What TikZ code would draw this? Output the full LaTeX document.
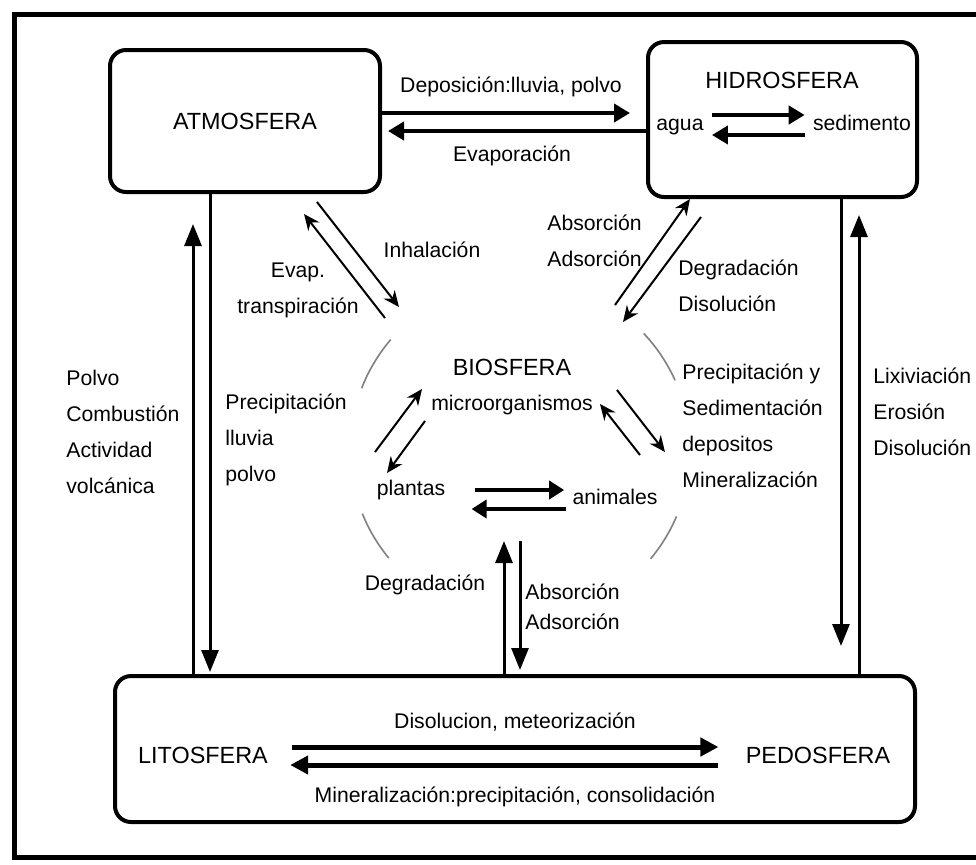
\documentclass[tikz,border=0pt]{standalone}
\usepackage{fontspec}
\setmainfont{Liberation Sans}
\usetikzlibrary{arrows.meta}

\begin{document}
\begin{tikzpicture}[x=0.5pt, y=-0.5pt,
  esfera/.style={draw, line width=2pt, rounded corners=8pt},
  titulo/.style={font=\fontsize{11.7}{14}\selectfont, inner sep=2pt},
  etiq/.style={font=\fontsize{10.6}{18}\selectfont, inner sep=2pt, align=left},
  hflow/.style={line width=2pt, -{Triangle[length=8pt,width=9pt]}},
  lflow/.style={line width=2.5pt, -{Triangle[length=9pt,width=9pt]}},
  vflow/.style={line width=1.5pt, -{Triangle[length=11pt,width=8.5pt]}},
  mflow/.style={line width=1.8pt, -{Triangle[length=7.5pt,width=9pt]}},
  dflow/.style={line width=1pt, -{Stealth[length=8pt,width=7pt]}},
  arco/.style={gray, line width=0.8pt}
]
  \useasboundingbox (0,0) rectangle (976,864);
  % marco
  \draw[line width=2.5pt] (990,14) -- (14,14) -- (14,857) -- (990,857);

  % esferas
  \node[esfera, titulo, minimum width=135pt, minimum height=71pt] (atmos) at (245,121) {ATMOSFERA};
  \node[esfera, minimum width=134.5pt, minimum height=77.5pt] (hidro) at (782.5,119.5) {};
  \node[esfera, minimum width=400pt, minimum height=73pt] (lito) at (515,749) {};

  \node[titulo] (hidroT) at (782,80) {HIDROSFERA};
  \node[etiq] (agua) at (680,127) {agua};
  \node[etiq] (sedim) at (862,123) {sedimento};
  \node[titulo] (litoT) at (203,755) {LITOSFERA};
  \node[titulo] (pedo) at (818,755) {PEDOSFERA};
  \node[titulo] (bio) at (512,367) {BIOSFERA};
  \node[etiq] (micro) at (512,405) {microorganismos};
  \node[etiq] (plantas) at (411,490) {plantas};
  \node[etiq] (animales) at (615,497) {animales};

  % etiquetas
  \node[etiq] (lDepo) at (511,87) {Deposición:lluvia, polvo};
  \node[etiq] (lEvapo) at (512,156) {Evaporación};
  \node[etiq] (lInhal) at (432,250) {Inhalación};
  \node[etiq, align=center] (lEvap) at (298,290) {Evap.\\transpiración};
  \node[etiq, anchor=west] (lAbsH) at (543,241) {Absorción\\Adsorción};
  \node[etiq, anchor=west] (lDegH) at (674,286) {Degradación\\Disolución};
  \node[etiq, anchor=west] (lPolvo) at (62,432) {Polvo\\Combustión\\Actividad\\volcánica};
  \node[etiq, anchor=west] (lPrecL) at (221,440) {Precipitación\\lluvia\\polvo};
  \node[etiq, anchor=west] (lPrecB) at (678,426) {Precipitación y\\Sedimentación\\depositos\\Mineralización};
  \node[etiq, anchor=west] (lLixi) at (869,412) {Lixiviación\\Erosión\\Disolución};
  \node[etiq] (lDegL) at (425,585) {Degradación};
  \node[etiq, anchor=west, font=\fontsize{10.6}{15}\selectfont] (lAbsL) at (521,607) {Absorción\\Adsorción};
  \node[etiq] (lDisol) at (515,722) {Disolucion, meteorización};
  \node[etiq] (lMiner) at (515,797) {Mineralización:precipitación, consolidación};

  % atmosfera <-> hidrosfera
  \draw[hflow, shorten >=8pt] (atmos.east |- 0,113) -- (hidro.west |- 0,113);
  \draw[hflow, shorten >=3pt] (hidro.west |- 0,131) -- (atmos.east |- 0,131);
  \draw[hflow, shorten <=2pt, shorten >=2pt] (agua.east |- 0,115) -- (sedim.west |- 0,115);
  \draw[hflow, shorten <=2pt, shorten >=2pt] (sedim.west |- 0,135) -- (agua.east |- 0,135);

  % atmosfera / hidrosfera <-> litosfera
  \draw[vflow, shorten >=1pt] (atmos.south -| 210,0) -- (lito.north -| 210,0);
  \draw[vflow, shorten >=15pt] (lito.north -| 193,0) -- (atmos.south -| 193,0);
  \draw[vflow, shorten >=14pt] (hidro.south -| 841,0) -- (lito.north -| 841,0);
  \draw[vflow, shorten >=8pt] (lito.north -| 859,0) -- (hidro.south -| 859,0);

  % biosfera <-> litosfera
  \draw[vflow] (lito.north -| 504,0) -- ++(0,-133);
  \draw[vflow, shorten >=2pt] (lito.north -| 520,0) ++(0,-133) -- (lito.north -| 520,0);

  % litosfera <-> pedosfera
  \draw[lflow, shorten <=10pt, shorten >=11.5pt] (litoT.east |- 0,747) -- (pedo.west |- 0,747);
  \draw[lflow, shorten <=11.5pt, shorten >=9pt] (pedo.west |- 0,765) -- (litoT.east |- 0,765);

  % diagonales hacia la biosfera
  \draw[dflow] ([shift={(-65,8)}]atmos.south east) -- ++(82,105);
  \draw[dflow] ([shift={(3,124)}]atmos.south east) -- ++(-81,-104);
  \draw[dflow] ([shift={(-31,106)}]hidro.south west) -- ++(75,-106);
  \draw[dflow] ([shift={(55,18)}]hidro.south west) -- ++(-78,105);

  % dentro de la biosfera
  \draw[dflow] ([shift={(-36,-38)}]plantas.center) -- ++(47,-63);
  \draw[dflow] ([shift={(14,-69)}]plantas.center) -- ++(-38,52);
  \draw[dflow] ([shift={(25,-42)}]animales.center) -- ++(-40,-51);
  \draw[dflow] ([shift={(2,-107)}]animales.center) -- ++(48,62);
  \draw[mflow, shorten <=12.5pt, shorten >=2pt] (plantas.east |- 0,490) -- (animales.west |- 0,490);
  \draw[mflow, shorten <=1pt, shorten >=11pt] (animales.west |- 0,509) -- (plantas.east |- 0,509);

  % circulo de la biosfera
  \foreach \a/\b in {139.5/158.7, 24.2/43.3, 202/219.5, -39.8/-23}
    \draw[arco] plot[domain=\a:\b, samples=24] ({520+170*cos(\x)}, {450-170*sin(\x)});
\end{tikzpicture}
\end{document}
